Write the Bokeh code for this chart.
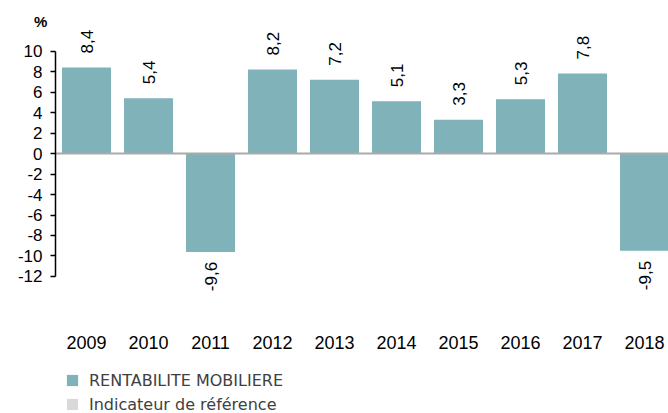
import math
from bokeh.plotting import figure
from bokeh.models import (Range1d, FixedTicker, Label, Legend, LegendItem,
                          ColumnDataSource, LinearAxis)
from bokeh.core.properties import value
from bokeh.embed import file_html
from bokeh.resources import INLINE

years = ["2009", "2010", "2011", "2012", "2013", "2014", "2015", "2016", "2017", "2018"]
rentabilite = [8.4, 5.4, -9.6, 8.2, 7.2, 5.1, 3.3, 5.3, 7.8, -9.5]
y_ticks = [-12, -10, -8, -6, -4, -2, 0, 2, 4, 6, 8, 10]
series_names = ["RENTABILITE MOBILIERE", "Indicateur de référence"]
unit = "%"

BAR = "#7fb2b9"
REF = "#d9d9d9"
FONT = "Liberation Sans"

pos = [i + 0.5 for i in range(len(years))]
labels = [f"{v:.1f}".replace(".", ",") for v in rentabilite]

p = figure(width=668, height=413, output_backend="svg", toolbar_location=None,
           x_range=Range1d(-55 / 62, 613 / 62), y_range=Range1d(-25.366, 14.927),
           min_border_left=0, min_border_right=0, min_border_top=0, min_border_bottom=0,
           x_axis_location=None, y_axis_location=None)
p.outline_line_color = None
p.grid.visible = False

# y axis
yax = LinearAxis(ticker=FixedTicker(ticks=y_ticks), bounds=(-12, 10),
                 major_label_overrides={t: str(t) for t in y_ticks})
yax.fixed_location = 0
yax.axis_line_color = "black"
yax.axis_line_width = 1.5
yax.major_tick_line_color = "black"
yax.major_tick_line_width = 1.5
yax.major_tick_out = 5
yax.major_tick_in = 0
yax.minor_tick_line_color = None
yax.major_label_standoff = 8
yax.major_label_text_font = FONT
yax.major_label_text_font_size = "17px"
yax.major_label_text_color = "black"
p.add_layout(yax, "left")

# x axis
xax = LinearAxis(ticker=FixedTicker(ticks=pos),
                 major_label_overrides={pp: y for pp, y in zip(pos, years)})
xax.fixed_location = -16.39
xax.axis_line_color = None
xax.major_tick_line_color = None
xax.minor_tick_line_color = None
xax.major_label_standoff = 9
xax.major_label_text_font = FONT
xax.major_label_text_font_size = "18px"
xax.major_label_text_color = "black"
p.add_layout(xax, "below")

src = ColumnDataSource(dict(x=pos, top=rentabilite, lab=labels))
bars = p.vbar(x="x", top="top", bottom=0, width=0.79, source=src,
              fill_color=BAR, line_color=None)

# zero line, starting at the y axis
p.segment(x0=[0], y0=[0], x1=[len(years)], y1=[0], line_color="#aaaaaa", line_width=2)

# value labels
pos_src = ColumnDataSource(dict(x=[x for x, v in zip(pos, rentabilite) if v >= 0],
                                y=[v for v in rentabilite if v >= 0],
                                t=[l for l, v in zip(labels, rentabilite) if v >= 0]))
neg_src = ColumnDataSource(dict(x=[x for x, v in zip(pos, rentabilite) if v < 0],
                                y=[v for v in rentabilite if v < 0],
                                t=[l for l, v in zip(labels, rentabilite) if v < 0]))
p.text(x="x", y="y", text="t", source=pos_src, angle=math.pi / 2,
       text_align="left", text_baseline="middle", y_offset=-14,
       text_font=value(FONT), text_font_size="17px", text_color="black")
p.text(x="x", y="y", text="t", source=neg_src, angle=math.pi / 2,
       text_align="right", text_baseline="middle", y_offset=10,
       text_font=value(FONT), text_font_size="17px", text_color="black")

# unit label
p.add_layout(Label(x=-0.24, y=12.88, text=unit, text_align="center", text_baseline="middle",
                   text_font=FONT, text_font_size="15px", text_font_style="bold",
                   text_color="black"))

# legend
ref = p.vbar(x=[pos[0]], top=[0], bottom=0, width=0.79, fill_color=REF, line_color=None)
legend = Legend(items=[LegendItem(label=series_names[0], renderers=[bars]),
                       LegendItem(label=series_names[1], renderers=[ref])],
                location=(65, -1), orientation="vertical",
                glyph_width=14, glyph_height=14, label_height=20, spacing=4,
                label_standoff=10, padding=0, margin=0,
                border_line_color=None, background_fill_alpha=0,
                label_text_font="DejaVu Sans", label_text_font_size="16px",
                label_text_color="#404040")
p.add_layout(legend)

open("out.html", "w").write(file_html(p, INLINE))
